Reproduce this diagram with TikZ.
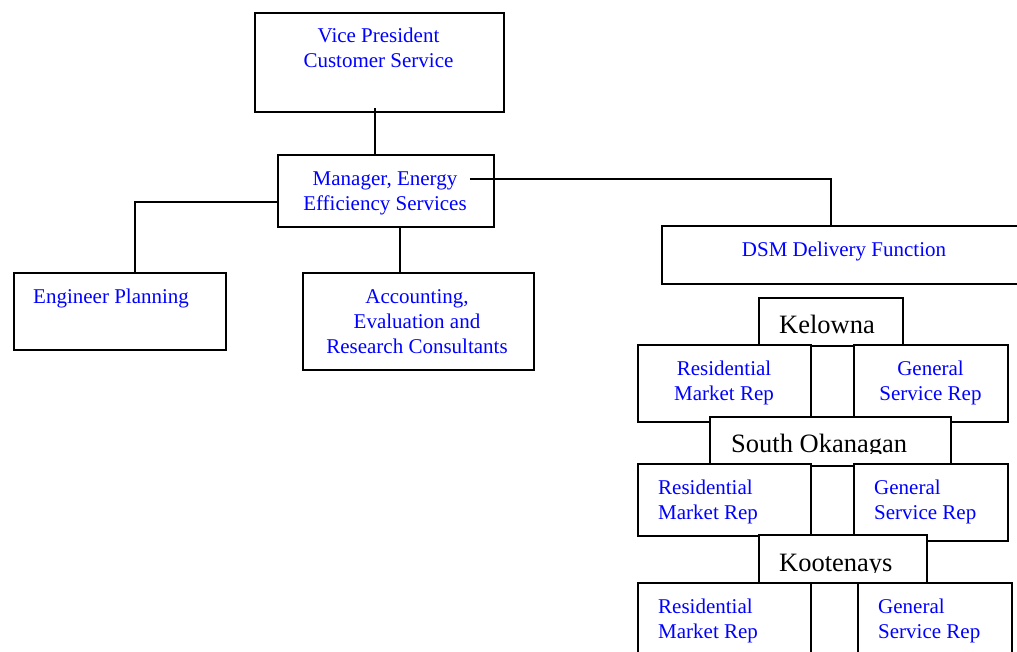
\documentclass[tikz,border=0pt]{standalone}
\usepackage{fontspec}
\setmainfont{Liberation Serif}
\begin{document}
\begin{tikzpicture}[x=1pt,y=-1pt,
  box/.style={draw, line width=1.9pt, fill=white, inner sep=0pt, anchor=north west},
  con/.style={line width=1.9pt},
  bt/.style={text=blue, font=\fontsize{21}{25}\selectfont, align=center, inner sep=0pt},
  btl/.style={bt, align=left, anchor=west},
  rt/.style={text=black, font=\fontsize{26.5}{30}\selectfont, inner sep=0pt, anchor=base west}]
\clip (0,0) rectangle (1017,651);
\useasboundingbox (0,0) rectangle (1017,651);
% top part
\node[box, minimum width=249pt, minimum height=99pt] (vp) at (254,12) {};
\node[bt] (vpt) at (378.5,49.5) {\strut Vice President\\\strut Customer Service};
\node[box, minimum width=216pt, minimum height=72pt] (mgr) at (277,154) {};
\node[bt] (mgrt) at (385,192.5) {\strut Manager, Energy\\\strut Efficiency Services};
\node[box, minimum width=212pt, minimum height=77pt] (eng) at (13,272) {};
\node[bt, anchor=base west] (engt) at (33,303) {Engineer Planning};
\node[box, minimum width=231pt, minimum height=97pt] (acc) at (302,272) {};
\node[bt] (acct) at (417,323) {\strut Accounting,\\\strut Evaluation and\\\strut Research Consultants};
\node[box, minimum width=370pt, minimum height=58pt] (dsm) at (661,225) {};
\node[bt, anchor=base] (dsmt) at (844,256) {DSM Delivery Function};
% connectors
\coordinate (mgrR) at ([xshift=84pt,yshift=12pt]mgr.center);
\draw[con] ([xshift=-4.5pt,yshift=5pt]vp.south) -- ([xshift=-4.5pt]vp.south |- mgr.north);
\draw[con] ([yshift=-11pt]mgr.west) -| ([xshift=15pt]eng.north);
\draw[con] ([xshift=14pt]mgr.south) -- ([xshift=14pt]mgr.south |- acc.north);
\draw[con] (mgrR) -| ([xshift=-16pt]dsm.north);
% Kelowna
\node[box, minimum width=144pt, minimum height=48pt] (kel) at (758,297) {};
\node[rt] (kelt) at (779,333) {Kelowna};
\node[box, minimum width=173pt, minimum height=77pt] (k1) at (637,344) {};
\node[bt] (k1t) at (724,382.5) {\strut Residential\\\strut Market Rep};
\node[box, minimum width=154pt, minimum height=77pt] (k2) at (853,344) {};
\node[bt] (k2t) at (930.5,382.5) {\strut General\\\strut Service Rep};
% South Okanagan
\node[box, minimum width=241pt, minimum height=49pt] (so) at (709,416) {};
\begin{scope}
\clip (709,416) rectangle (950,453.5);
\node[rt] (sot) at (731,452) {South Okanagan};
\end{scope}
\node[box, minimum width=173pt, minimum height=72pt] (s1) at (637,463) {};
\node[btl] (s1t) at (658,501.5) {\strut Residential\\\strut Market Rep};
\node[box, minimum width=154pt, minimum height=77pt] (s2) at (853,463) {};
\node[btl] (s2t) at (874,501.5) {\strut General\\\strut Service Rep};
% Kootenays
\node[box, minimum width=168pt, minimum height=48pt] (koo) at (758,534) {};
\begin{scope}
\clip (758,534) rectangle (926,572.5);
\node[rt] (koot) at (779,571) {Kootenays};
\end{scope}
\node[box, minimum width=173pt, minimum height=90pt] (t1) at (637,582) {};
\node[btl] (t1t) at (658,620.5) {\strut Residential\\\strut Market Rep};
\node[box, minimum width=154pt, minimum height=90pt] (t2) at (857,582) {};
\node[btl] (t2t) at (878,620.5) {\strut General\\\strut Service Rep};
\end{tikzpicture}
\end{document}
